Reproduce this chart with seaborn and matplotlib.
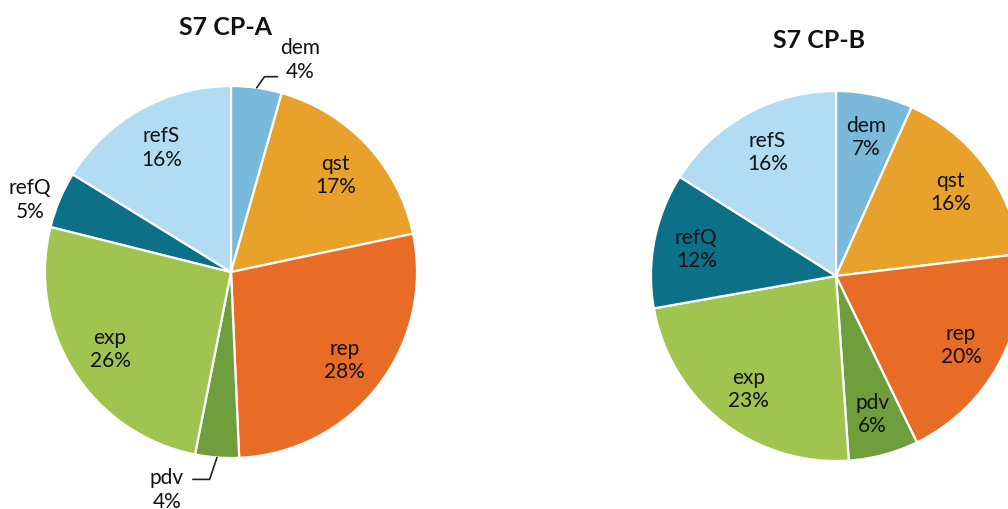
import numpy as np
import matplotlib.pyplot as plt
import seaborn as sns

sns.set_style("white")
plt.rcParams["font.family"] = ["Lato", "DejaVu Sans"]

# data (shares; labels show the rounded values)
categories = ["dem", "qst", "rep", "pdv", "exp", "refQ", "refS"]
cp_a = [4.4, 17.3, 27.6, 3.8, 25.8, 4.9, 16.2]
cp_b = [6.7, 16.4, 19.7, 6.1, 23.3, 11.8, 16.0]
titles = ["S7 CP-A", "S7 CP-B"]

colors = sns.color_palette(["#79b9da", "#e8a12a", "#e86c26", "#6f9e3c",
                            "#a0c450", "#0c7087", "#b2dcf3"])

W, H = 1008, 510
fig = plt.figure(figsize=(W / 100, H / 100), dpi=100)
L = 1.5  # half-width of each pie axes in data units


def make_ax(cx, cy, r):
    # cx, cy in pixels (from top-left), r = pie radius in pixels
    w = 2 * L * r
    return fig.add_axes([(cx - w / 2) / W, (H - cy - w / 2) / H, w / W, w / H])


# label placement: inside labels sit at 0.77 radius; a few go outside
outside = [
    {"dem": (0.37, 1.145), "pdv": (-0.344, -1.167), "refQ": (-1.08, 0.392)},
    {},
]
leaders = [
    {"dem": [(0.18, 1.05), (0.25, 1.05)], "pdv": [(-0.115, -1.115), (-0.205, -1.115)]},
    {},
]
pies = [(231, 273, 186, cp_a), (836, 277, 185, cp_b)]
title_pos = [(-0.03, 1.32), (-0.09, 1.28)]

for i, (cx, cy, r, values) in enumerate(pies):
    ax = make_ax(cx, cy, r)
    wedges, _ = ax.pie(values, colors=colors, startangle=90, counterclock=False,
                       wedgeprops=dict(edgecolor="white", linewidth=1.6))
    ax.set_xlim(-L, L)
    ax.set_ylim(-L, L)
    for w, cat, v in zip(wedges, categories, values):
        mid = np.deg2rad((w.theta1 + w.theta2) / 2)
        label = f"{cat}\n{v:.0f}%"
        if cat in outside[i]:
            x, y = outside[i][cat]
        else:
            x, y = 0.77 * np.cos(mid), 0.77 * np.sin(mid)
        ax.text(x, y, label, ha="center", va="center", fontsize=15,
                color="#111111", clip_on=False)
        if cat in leaders[i]:
            pts = [(np.cos(mid), np.sin(mid))] + leaders[i][cat]
            xs, ys = zip(*pts)
            ax.plot(xs, ys, color="#222222", lw=1.2, clip_on=False)
    tx, ty = title_pos[i]
    ax.text(tx, ty, titles[i], ha="center", va="center", fontsize=18,
            fontweight="bold", color="#111111", clip_on=False)

fig.savefig("out.png", dpi=100)
